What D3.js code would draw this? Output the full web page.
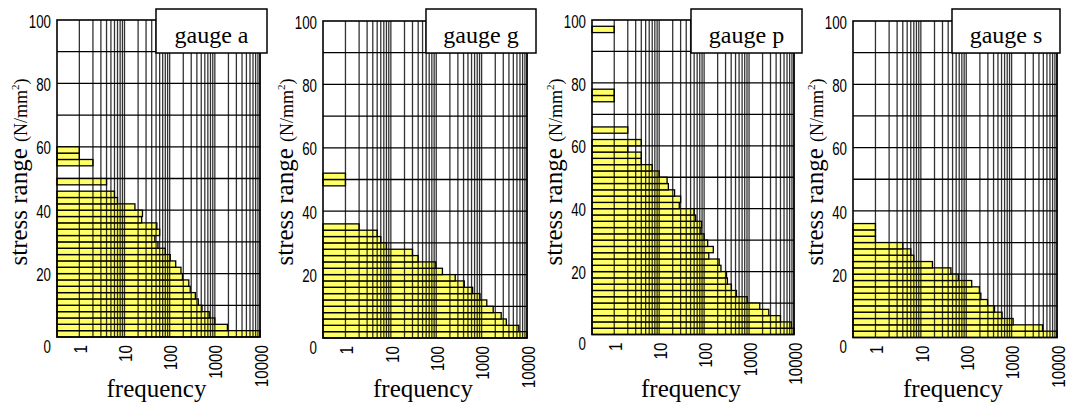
<!DOCTYPE html>
<html>
<head>
<meta charset="utf-8">
<script src="https://d3js.org/d3.v7.min.js"></script>
<style>
body { margin: 0; background: #fff; }
svg { display: block; }
.tick { font-family: "Liberation Sans", Arial, sans-serif; fill: #000; }
.serif { font-family: "Liberation Serif", "Times New Roman", serif; fill: #000; }
</style>
</head>
<body>
<script>
// stress range bins of 2 N/mm2, starting at 0; value = frequency (0 = no bar)
var binWidth = 2;
var gauges = ["gauge a", "gauge g", "gauge p", "gauge s"];

var freqA = [10000, 1900, 1000, 750, 520, 430, 370, 285, 265, 192,
             178, 136, 103, 80, 55, 47, 60, 52, 24, 25,
             17, 7, 6, 0, 4, 0, 0, 2, 1, 1];
var freqG = [10000, 6600, 3500, 2700, 1800, 1300, 920, 635, 415, 262,
             137, 98, 40, 30, 8, 6, 5, 2, 0, 0,
             0, 0, 0, 0, 1, 1];
var freqP = [10000, 8700, 5000, 2750, 1730, 910, 525, 405, 330, 315,
             237, 216, 127, 160, 120, 100, 85, 88, 65, 60,
             28, 30, 22, 16, 15, 10, 7, 4, 4, 2,
             4, 0, 2, 0, 0, 0, 0, 1, 1, 0,
             0, 0, 0, 0, 0, 0, 0, 0, 1];
var freqS = [10000, 4800, 1080, 615, 420, 295, 210, 195, 132, 67,
             46, 18, 7, 6, 4, 1, 1, 1];

var yTicks = [0, 20, 40, 60, 80, 100];
var xTicks = [1, 10, 100, 1000, 10000];
var xTickLabels = ["1", "10", "100", "1000", "10000"];

var svg = d3.select("body").append("svg")
    .attr("width", 1069)
    .attr("height", 407);

var panels = [
    {name: gauges[0], data: freqA, left: 57,  right: 260,  top: 20, bottom: 337,   box: [156, 267]},
    {name: gauges[1], data: freqG, left: 323, right: 527,  top: 21, bottom: 338,   box: [426, 536]},
    {name: gauges[2], data: freqP, left: 592, right: 794,  top: 20, bottom: 334.5, box: [691, 802]},
    {name: gauges[3], data: freqS, left: 853, right: 1057, top: 21, bottom: 337.5, box: [952, 1060]}
];

panels.forEach(drawPanel);

function drawPanel(p) {
    var x = d3.scaleLog().domain([0.32, 10000]).range([p.left, p.right]),
        y = d3.scaleLinear().domain([0, 100]).range([p.bottom, p.top]);

    var g = svg.append("g");

    // horizontal grid
    g.selectAll(".hgrid")
        .data(y.ticks(10).filter(function (d) { return d > 0 && d < 100; }))
        .enter().append("line")
        .attr("x1", p.left).attr("x2", p.right)
        .attr("y1", function (d) { return y(d); })
        .attr("y2", function (d) { return y(d); })
        .attr("stroke", "#000")
        .attr("stroke-width", 1.3);

    // bars
    var bins = p.data.map(function (f, i) { return {lo: i * binWidth, f: f}; })
        .filter(function (d) { return d.f > 0; });

    g.selectAll(".bar")
        .data(bins)
        .enter().append("rect")
        .attr("x", p.left)
        .attr("y", function (d) { return y(d.lo + binWidth); })
        .attr("width", function (d) { return x(d.f) - p.left; })
        .attr("height", function (d) { return y(d.lo) - y(d.lo + binWidth); })
        .attr("fill", "#ffff40")
        .attr("fill-opacity", 0.8)
        .attr("stroke", "#000")
        .attr("stroke-width", 1.3);

    // vertical grid on top
    g.selectAll(".vgrid")
        .data(x.ticks().filter(function (d) { return d >= 1; }))
        .enter().append("line")
        .attr("x1", function (d) { return x(d); })
        .attr("x2", function (d) { return x(d); })
        .attr("y1", p.top).attr("y2", p.bottom)
        .attr("stroke", "#000")
        .attr("stroke-opacity", 0.8)
        .attr("stroke-width", 1.3);

    // frame
    g.append("rect")
        .attr("x", p.left).attr("y", p.top)
        .attr("width", p.right - p.left)
        .attr("height", p.bottom - p.top)
        .attr("fill", "none")
        .attr("stroke", "#000")
        .attr("stroke-width", 1.6);

    // y tick labels
    g.selectAll(".ylab")
        .data(yTicks)
        .enter().append("text")
        .attr("class", "tick")
        .attr("transform", function (d) {
            return "translate(" + (p.left - 6) + "," + (y(d) + (d === 0 ? 9 : 1)) + ") scale(0.74,1.05)";
        })
        .attr("dy", "0.35em")
        .attr("text-anchor", "end")
        .style("font-size", "18px")
        .text(function (d) { return d; });

    // x tick labels (rotated)
    g.selectAll(".xlab")
        .data(xTicks)
        .enter().append("text")
        .attr("class", "tick")
        .attr("transform", function (d) {
            return "translate(" + (x(d) + 1) + "," + (p.bottom + 8) + ") rotate(-90) scale(0.8,1)";
        })
        .attr("dy", "0.35em")
        .attr("text-anchor", "end")
        .style("font-size", "19px")
        .text(function (d, i) { return xTickLabels[i]; });

    // axis titles
    g.append("text")
        .attr("class", "serif")
        .attr("text-anchor", "middle")
        .attr("x", (p.left + p.right) / 2 - 2)
        .attr("y", 397)
        .style("font-size", "25px")
        .text("frequency");

    var yt = g.append("text")
        .attr("class", "serif")
        .attr("text-anchor", "middle")
        .attr("transform", "translate(" + (p.left - 30) + ",172) rotate(-90)");
    yt.append("tspan").style("font-size", "25px").text("stress range ");
    yt.append("tspan").style("font-size", "18px").text("(N/mm");
    yt.append("tspan").style("font-size", "11px").attr("dy", -8).text("2");
    yt.append("tspan").style("font-size", "18px").attr("dy", 8).text(")");

    // legend box
    g.append("rect")
        .attr("x", p.box[0]).attr("y", 9)
        .attr("width", p.box[1] - p.box[0])
        .attr("height", 44)
        .attr("fill", "#fff")
        .attr("stroke", "#000")
        .attr("stroke-width", 1.5);

    g.append("text")
        .attr("class", "serif")
        .attr("text-anchor", "middle")
        .attr("x", (p.box[0] + p.box[1]) / 2)
        .attr("y", 43)
        .style("font-size", "24px")
        .text(p.name);
}
</script>
</body>
</html>
